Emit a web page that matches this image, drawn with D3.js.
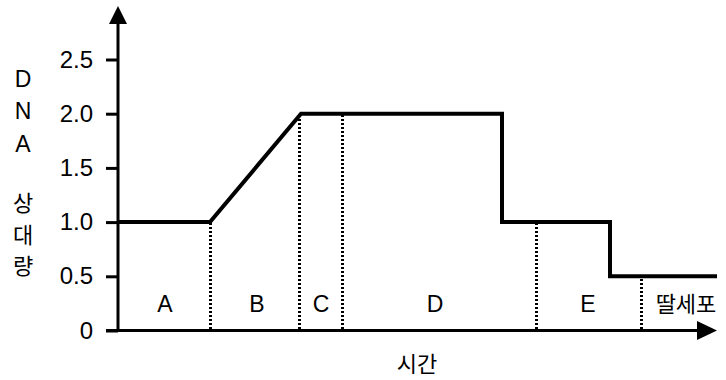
<!DOCTYPE html>
<html>
<head>
<meta charset="utf-8">
<script src="https://cdn.jsdelivr.net/npm/d3@7"></script>
<style>
  body { margin: 0; background: #fff; }
  text { fill: #000; }
</style>
</head>
<body>
<svg id="chart" width="726" height="380"></svg>
<script>
// time is in arbitrary units along the x axis
const lineTime  = [0, 92, 183, 384, 384, 492, 492, 599];
const lineValue = [1, 1, 2, 2, 1, 1, 0.5, 0.5];
const dotTime   = [92, 181, 224, 418, 523];
const dotValue  = [1, 2, 2, 1, 0.5];
const phaseNames = ['A', 'B', 'C', 'D', 'E', '딸세포'];
const phaseTime  = [47, 139, 203, 317, 470, 568];
const yTicks = [0, 0.5, 1.0, 1.5, 2.0, 2.5];
const yTitle = ['D', 'N', 'A', '상', '대', '량'];

const svg = d3.select('#chart');
const x = d3.scaleLinear().domain([0, 600]).range([118, 718]);
const y = d3.scaleLinear().domain([0, 2.5]).range([330.5, 59.5]);

const latin = '"Liberation Sans", Arial, sans-serif';
const kor = '"Noto Sans CJK KR", sans-serif';

// y axis ticks
const yAxis = d3.axisLeft(y)
    .tickValues(yTicks)
    .tickSize(12)
    .tickPadding(13)
    .tickFormat(d => d === 0 ? '0' : d3.format('.1f')(d));
const gy = svg.append('g').attr('transform', 'translate(118,0)').call(yAxis);
gy.select('.domain').remove();
gy.selectAll('.tick line').attr('stroke', '#000').attr('stroke-width', 3);
gy.selectAll('.tick text')
    .style('font-family', latin)
    .style('font-size', '24px')
    .attr('fill', '#000');

// axes lines with arrows
svg.append('line').attr('x1', 118).attr('x2', 118).attr('y1', 332).attr('y2', 20)
    .attr('stroke', '#000').attr('stroke-width', 3);
svg.append('path').attr('d', 'M118,6 L127,24 L109,24 Z').attr('fill', '#000');
svg.append('line').attr('x1', 106).attr('x2', 700).attr('y1', 330.5).attr('y2', 330.5)
    .attr('stroke', '#000').attr('stroke-width', 3);
svg.append('path').attr('d', 'M717,330.5 L697,321 L697,340 Z').attr('fill', '#000');

// dotted phase separators
svg.selectAll('.sep').data(dotTime).enter().append('line')
    .attr('class', 'sep')
    .attr('x1', d => Math.round(x(d)) + 0.5).attr('x2', d => Math.round(x(d)) + 0.5)
    .attr('y1', 329).attr('y2', (d, i) => y(dotValue[i]))
    .attr('stroke', '#000').attr('stroke-width', 3)
    .attr('stroke-dasharray', '2,2');

// DNA amount line
const pts = lineTime.map((t, i) => [t, lineValue[i]]);
svg.append('path')
    .attr('d', d3.line().x(d => x(d[0])).y(d => y(d[1]))(pts))
    .attr('fill', 'none').attr('stroke', '#000').attr('stroke-width', 4)
    .attr('stroke-linejoin', 'miter');

// phase labels
svg.selectAll('.phase').data(phaseNames).enter().append('text')
    .attr('class', 'phase')
    .attr('x', (d, i) => x(phaseTime[i]))
    .attr('y', 312)
    .attr('text-anchor', 'middle')
    .style('font-family', d => d.length > 1 ? kor : latin)
    .style('font-size', d => d.length > 1 ? '22px' : '23px')
    .text(d => d);

// y title, stacked
const titleY = [87, 119, 152, 211, 243, 274];
svg.selectAll('.ytitle').data(yTitle).enter().append('text')
    .attr('class', 'ytitle')
    .attr('x', 23)
    .attr('y', (d, i) => titleY[i])
    .attr('text-anchor', 'middle')
    .style('font-family', d => /[A-Z]/.test(d) ? latin : kor)
    .style('font-size', d => /[A-Z]/.test(d) ? '23px' : '22px')
    .text(d => d);

// x title
svg.append('text')
    .attr('x', 417).attr('y', 372)
    .attr('text-anchor', 'middle')
    .style('font-family', kor)
    .style('font-size', '22px')
    .text('시간');
</script>
</body>
</html>
